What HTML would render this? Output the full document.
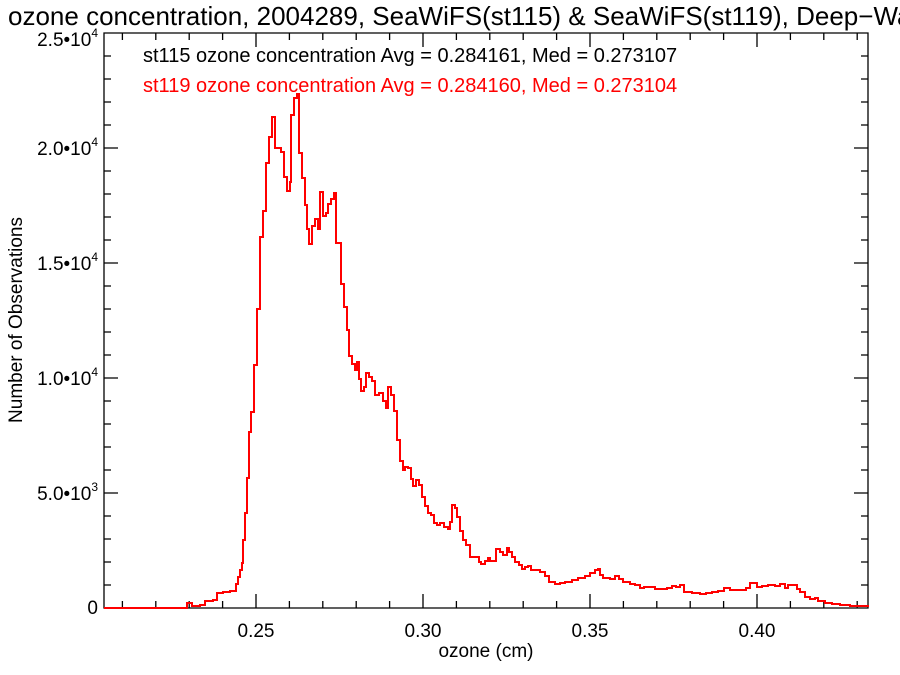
<!DOCTYPE html>
<html><head><meta charset="utf-8"><style>
html,body{margin:0;padding:0;background:#fff;overflow:hidden;}
svg{display:block;font-family:"Liberation Sans",Arial,sans-serif;}
</style></head><body>
<svg id="s" width="900" height="675" xmlns="http://www.w3.org/2000/svg">
<text x="8" y="25" font-size="26" fill="#000">ozone concentration, 2004289, SeaWiFS(st115) &amp; SeaWiFS(st119), Deep−Water</text>
<g id="ax" stroke="#000" stroke-width="1.3" fill="none"></g>
<g font-size="19" fill="#000" text-anchor="end">
<text x="98" y="614">0</text>
<text x="98" y="500">5.0•10<tspan font-size="12" dy="-9">3</tspan></text>
<text x="98" y="385">1.0•10<tspan font-size="12" dy="-9">4</tspan></text>
<text x="98" y="270">1.5•10<tspan font-size="12" dy="-9">4</tspan></text>
<text x="98" y="155">2.0•10<tspan font-size="12" dy="-9">4</tspan></text>
<text x="98" y="46">2.5•10<tspan font-size="12" dy="-9">4</tspan></text>
</g>
<g font-size="19" fill="#000" text-anchor="middle">
<text x="256" y="637">0.25</text>
<text x="423" y="637">0.30</text>
<text x="590" y="637">0.35</text>
<text x="757" y="637">0.40</text>
<text x="486" y="657">ozone (cm)</text>
<text transform="translate(22,320) rotate(-90)">Number of Observations</text>
</g>
<text x="143" y="62" font-size="20" fill="#000">st115 ozone concentration Avg = 0.284161, Med = 0.273107</text>
<text x="143" y="92" font-size="20" fill="#ff0000">st119 ozone concentration Avg = 0.284160, Med = 0.273104</text>
<path id="h" stroke="#ff0000" stroke-width="2" fill="none"/>
</svg>
<script>
var L=104,R=868,T=33,B=608;
var ax=document.getElementById('ax'),s='M'+L+' '+T+'H'+R+'V'+B+'H'+L+'Z';
for(var v=0;v<=25000;v+=1000){var y=B-v*0.023,len=(v%5000==0)?14:7;s+='M'+L+' '+y+'h'+len+'M'+R+' '+y+'h'+(-len);}
for(var i=21;i<=43;i++){var x=256+(i-25)*33.4,len=(i%5==0)?14:7;s+='M'+x+' '+B+'v'+(-len)+'M'+x+' '+T+'v'+len;}
ax.innerHTML='<path d="'+s+'"/>';
var p=[[104,608],[187,603],[192,606],[200,605],[205,601],[213,600],[217,593],[223,592],[230,591],[236,584],[238,577],[240,570],[242,563],[243,540],[245,513],[247,478],[249,432],[251,412],[254,365],[257,309],[260,237],[263,211],[266,163],[269,137],[272,117],[275,148],[281,152],[284,177],[287,191],[290,182],[291,115],[294,98],[297,94],[299,153],[302,178],[305,205],[307,229],[309,244],[312,226],[315,219],[318,229],[320,192],[323,216],[326,213],[328,204],[331,199],[334,193],[336,243],[341,284],[344,307],[347,330],[349,356],[352,364],[355,370],[357,362],[359,379],[361,391],[364,387],[366,373],[369,377],[372,381],[375,395],[379,393],[383,401],[386,408],[388,387],[391,395],[394,411],[397,440],[400,461],[403,470],[405,467],[408,468],[411,479],[413,486],[416,480],[419,485],[422,497],[425,506],[428,513],[431,515],[434,523],[437,525],[440,523],[444,527],[448,529],[450,522],[452,505],[455,508],[457,517],[460,531],[463,540],[466,545],[470,557],[476,557],[479,562],[481,564],[485,561],[488,558],[490,561],[496,549],[500,552],[503,555],[507,548],[509,552],[512,557],[515,562],[519,565],[522,569],[525,567],[528,566],[531,570],[540,572],[545,576],[549,582],[555,584],[560,583],[565,582],[572,580],[578,578],[585,576],[590,573],[595,570],[598,569],[600,575],[603,578],[610,579],[615,576],[619,579],[623,582],[626,582],[630,584],[635,585],[640,588],[644,587],[650,587],[655,589],[667,588],[672,586],[676,587],[680,585],[684,592],[692,593],[700,594],[706,593],[712,592],[718,591],[724,588],[730,590],[746,588],[750,583],[757,587],[762,586],[768,585],[775,586],[780,584],[785,588],[788,585],[797,589],[800,592],[805,597],[810,599],[815,598],[818,601],[825,603],[832,604],[840,605],[850,606],[868,607]];
var d='M'+p[0][0]+' '+p[0][1];
for(var k=1;k<p.length;k++){d+='H'+p[k][0]+'V'+p[k][1];}
d+='H'+R;
document.getElementById('h').setAttribute('d',d);
</script>
</body></html>
